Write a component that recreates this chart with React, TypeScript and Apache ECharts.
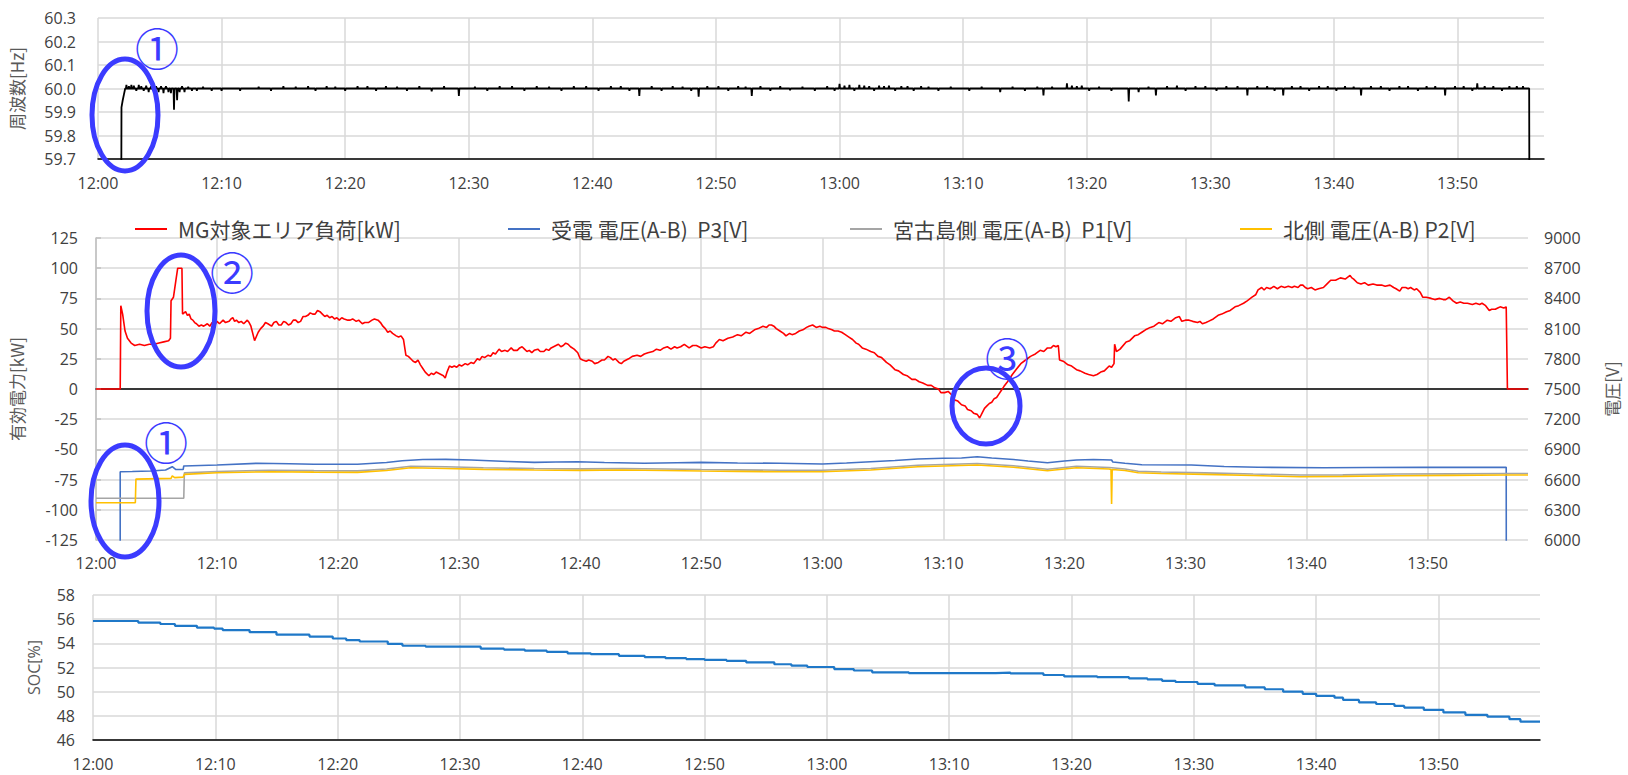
import React, { useEffect, useRef } from "react";
import * as echarts from "echarts";

// time in minutes after 12:00
// frequency: recovery after start, then short spikes around 60.0 Hz
const freqStart: [number, number][] = [
  [0, 59.5], [1.88, 59.5], [1.9, 59.92], [2.0, 59.95], [2.1, 59.975], [2.2, 60.0],
];
const freqSpikes: [number, number][] = [
  [2.3, 60.015], [2.5, 60.01], [2.7, 60.015], [2.9, 60.012], [3.1, 59.99], [3.3, 60.015], [3.5, 60.01], [3.7, 59.99], [3.9, 60.012], [4.1, 59.985],
  [4.3, 60.01], [4.5, 59.99], [4.7, 60.01], [4.9, 59.985], [5.1, 60.01], [5.3, 59.98], [5.5, 60.01], [5.7, 59.985], [5.9, 59.98], [6.15, 59.91],
  [6.4, 59.95], [6.6, 59.985], [6.8, 60.01], [7.0, 59.985], [7.3, 60.008], [7.6, 59.99], [8.0, 59.99], [8.5, 60.008], [9.2, 59.99], [10, 59.99],
  [11.5, 59.99], [13, 60.008], [14, 59.99], [15, 60.01], [16, 60.008], [17, 60.01], [17.6, 59.99], [18.5, 60.01], [19.2, 60.008], [20, 59.99],
  [21, 60.01], [21.8, 60.01], [22.5, 59.99], [23.3, 60.01], [24.2, 60.008], [25, 59.99], [26, 60.01], [27, 59.988], [28, 60.01], [29.2, 59.968],
  [30.5, 60.008], [31.5, 59.99], [32.5, 60.01], [33.5, 60.01], [34.5, 59.99], [35.5, 60.01], [36.5, 60.008], [37.5, 59.99], [38.5, 60.01], [39.5, 60.01],
  [40.5, 59.99], [41.5, 60.01], [42.3, 60.01], [43, 59.99], [43.8, 59.968], [44.8, 60.01], [45.6, 59.99], [46.5, 60.01], [47.3, 60.008], [48.0, 59.99],
  [48.6, 59.965], [49.3, 60.01], [50.2, 60.01], [51, 59.99], [51.8, 60.01], [52.4, 60.008], [52.9, 59.968], [53.6, 60.01], [54.4, 59.99], [55.2, 60.01],
  [56, 59.992], [57, 60.008], [58, 59.99], [59, 60.01], [59.6, 59.99], [60, 60.02], [60.4, 60.012], [60.8, 60.015], [61.2, 59.99], [61.6, 60.015],
  [62, 60.012], [62.4, 60.01], [62.8, 59.99], [63.2, 60.012], [63.6, 60.01], [64, 60.012], [64.5, 59.99], [65, 60.01], [65.5, 60.01], [66, 59.99],
  [66.6, 60.01], [67.2, 60.008], [68, 59.99], [69, 60.008], [70.5, 59.99], [71.5, 60.008], [73, 59.985], [74, 60.008], [75, 59.99], [76, 60.008],
  [76.5, 59.97], [77.2, 60.008], [78.4, 60.022], [78.8, 60.012], [79.2, 60.01], [79.6, 60.012], [80.2, 59.99], [81, 60.008], [82, 59.99], [83.4, 59.945],
  [84.2, 59.985], [85, 60.008], [85.6, 59.97], [86.5, 60.01], [87.3, 60.012], [88, 59.99], [88.8, 60.01], [89.6, 60.01], [90.5, 59.99], [91.3, 60.01],
  [92.2, 60.01], [93, 59.97], [93.8, 60.01], [94.6, 60.01], [95.2, 59.99], [95.9, 59.97], [96.6, 60.01], [97.3, 60.01], [98, 59.99], [98.8, 60.01],
  [99.5, 60.01], [100.2, 59.99], [100.9, 60.01], [101.6, 60.008], [102.2, 59.97], [103, 60.01], [103.8, 60.01], [104.5, 59.99], [105.3, 60.01], [106, 60.01],
  [106.8, 59.99], [107.5, 60.01], [108.2, 60.01], [109, 59.97], [109.8, 60.01], [110.5, 60.01], [111.2, 59.99], [111.6, 60.022], [112.2, 60.01], [112.9, 60.01],
  [113.6, 59.99], [114.2, 60.01], [114.8, 60.01], [115.3, 60.01],
];
const freqEnd: [number, number][] = [[115.8, 60.0], [115.82, 59.5], [117, 59.5]];
const FREQ_BASE = 60.0;

const loadData: [number, number][] = [
  [0, 0], [2.0, 0], [2.05, 69], [2.2, 62], [2.4, 48], [2.6, 42], [2.9, 38], [3.2, 36], [3.6, 37], [4.0, 36], [4.4, 37], [4.8, 37], [5.2, 38], [5.6, 39],
  [6.0, 40], [6.15, 42], [6.2, 73], [6.4, 76], [6.6, 90], [6.75, 100], [7.1, 100], [7.15, 62], [7.4, 64], [7.55, 61], [7.7, 62], [7.85, 58], [8.0, 57],
  [8.15, 55], [8.3, 54], [8.5, 52], [8.7, 53], [8.9, 52], [9.2, 54], [9.4, 52], [9.6, 55], [9.8, 53], [10.0, 56], [10.2, 54], [10.5, 57], [10.7, 55],
  [11.0, 56], [11.15, 58], [11.3, 59], [11.45, 56], [11.6, 57], [11.8, 55], [12.0, 56], [12.2, 54], [12.5, 57], [12.65, 55], [12.8, 52], [13.1, 40],
  [13.4, 47], [13.6, 50], [13.8, 52], [14.0, 55], [14.2, 54], [14.5, 52], [14.7, 55], [14.9, 56], [15.1, 53], [15.3, 53], [15.5, 56], [15.7, 55],
  [15.9, 53], [16.1, 54], [16.3, 57], [16.5, 57], [16.7, 55], [16.9, 56], [17.1, 60], [17.3, 60], [17.5, 61], [17.7, 63], [17.9, 62], [18.1, 62],
  [18.3, 65], [18.5, 64], [18.7, 62], [18.9, 60], [19.1, 61], [19.3, 59], [19.5, 60], [19.7, 58], [19.9, 59], [20.1, 57], [20.3, 59], [20.5, 58],
  [20.8, 57], [21.0, 57], [21.2, 58], [21.5, 56], [21.7, 57], [22.0, 54], [22.2, 55], [22.5, 55], [22.8, 57], [23.0, 58], [23.3, 57], [23.5, 55],
  [23.7, 52], [23.9, 50], [24.1, 47], [24.3, 48], [24.5, 46], [24.8, 44], [25.0, 43], [25.2, 44], [25.4, 41], [25.6, 28], [25.8, 27], [26.0, 25],
  [26.2, 23], [26.4, 22], [26.6, 24], [26.8, 20], [27.0, 17], [27.2, 14], [27.5, 11], [27.7, 13], [27.9, 12], [28.1, 14], [28.3, 13], [28.5, 12],
  [28.7, 11], [28.85, 9], [29.0, 14], [29.2, 19], [29.4, 18], [29.6, 19], [29.8, 18], [30.0, 20], [30.2, 19], [30.5, 21], [30.7, 20], [31.0, 22],
  [31.2, 21], [31.5, 25], [31.7, 24], [31.9, 27], [32.1, 26], [32.4, 28], [32.6, 27], [32.8, 30], [33.0, 29], [33.3, 33], [33.5, 31], [33.8, 32],
  [34.0, 31], [34.3, 34], [34.5, 32], [34.8, 32], [35.0, 34], [35.2, 35], [35.4, 33], [35.6, 31], [35.8, 32], [36.0, 30], [36.2, 32], [36.5, 33],
  [36.7, 31], [37.0, 31], [37.2, 33], [37.4, 32], [37.6, 34], [37.8, 35], [38.0, 36], [38.2, 37], [38.4, 35], [38.6, 36], [38.8, 38], [39.0, 37],
  [39.2, 35], [39.5, 33], [39.8, 30], [40.0, 25], [40.2, 24], [40.5, 23], [40.7, 24], [41.0, 23], [41.2, 21], [41.5, 22], [41.8, 24], [42.0, 24],
  [42.3, 27], [42.5, 26], [42.7, 24], [42.9, 25], [43.2, 22], [43.4, 21], [43.6, 23], [43.8, 24], [44.0, 25], [44.3, 27], [44.7, 28], [45.0, 27],
  [45.3, 29], [45.6, 30], [46.0, 31], [46.3, 33], [46.6, 32], [46.9, 34], [47.2, 35], [47.5, 33], [47.8, 35], [48.0, 34], [48.3, 35], [48.6, 37],
  [49.0, 34], [49.3, 36], [49.6, 36], [50.0, 34], [50.3, 35], [50.7, 34], [51.0, 35], [51.2, 38], [51.5, 41], [51.8, 40], [52.2, 42], [52.6, 43],
  [53.0, 45], [53.3, 44], [53.7, 47], [54.0, 46], [54.4, 49], [54.7, 50], [55.1, 52], [55.4, 51], [55.6, 53], [55.8, 53], [56.0, 52], [56.2, 50],
  [56.5, 48], [56.8, 46], [57.0, 44], [57.3, 46], [57.5, 45], [57.8, 46], [58.1, 48], [58.4, 49], [58.7, 51], [58.9, 52], [59.2, 53], [59.5, 51],
  [59.8, 52], [60.0, 51], [60.3, 51], [60.5, 50], [60.8, 49], [61.0, 48], [61.3, 48], [61.6, 47], [61.9, 45], [62.2, 43], [62.5, 41], [62.8, 38],
  [63.0, 37], [63.3, 34], [63.6, 33], [64.0, 31], [64.3, 30], [64.6, 27], [64.9, 26], [65.3, 22], [65.6, 20], [66.0, 16], [66.3, 15], [66.7, 12],
  [67.0, 11], [67.4, 8], [67.7, 8], [68.0, 6], [68.3, 5], [68.7, 3], [69.0, 3], [69.3, 1], [69.6, 0], [69.8, -3], [70.1, -3], [70.4, -2], [70.7, -5],
  [70.9, -9], [71.2, -10], [71.5, -13], [71.8, -14], [72.0, -17], [72.3, -18], [72.5, -20], [72.8, -21], [73.0, -24], [73.2, -20], [73.4, -16],
  [73.6, -14], [73.8, -12], [74.0, -11], [74.2, -8], [74.4, -7], [74.6, -4], [74.8, -1], [75.0, 2], [75.3, 6], [75.7, 12], [76.0, 16], [76.4, 21],
  [76.8, 24], [77.2, 27], [77.6, 29], [78.0, 32], [78.3, 31], [78.6, 34], [78.9, 34], [79.1, 36], [79.3, 35], [79.5, 36], [79.6, 24], [79.9, 23],
  [80.3, 20], [80.6, 19], [81.0, 16], [81.3, 15], [81.7, 13], [82.0, 12], [82.4, 11], [82.7, 12], [83.0, 14], [83.3, 15], [83.7, 19], [83.9, 18],
  [84.1, 21], [84.15, 37], [84.3, 31], [84.6, 33], [85.1, 39], [85.4, 40], [85.8, 44], [86.1, 45], [86.4, 47], [86.7, 49], [87.1, 51], [87.4, 52],
  [87.8, 55], [88.1, 54], [88.5, 57], [88.8, 56], [89.2, 59], [89.5, 60], [89.7, 56], [90.0, 57], [90.3, 57], [90.6, 56], [91.0, 55], [91.2, 56],
  [91.4, 54], [91.7, 55], [91.9, 56], [92.3, 58], [92.7, 61], [93.0, 62], [93.4, 64], [93.7, 65], [94.1, 68], [94.4, 69], [94.8, 71], [95.1, 73],
  [95.5, 76], [95.8, 78], [96.0, 82], [96.3, 84], [96.5, 82], [96.7, 84], [97.0, 83], [97.3, 85], [97.6, 83], [97.9, 85], [98.2, 84], [98.5, 85],
  [98.8, 84], [99.0, 85], [99.3, 84], [99.5, 86], [99.7, 86], [99.9, 84], [100.1, 83], [100.4, 84], [100.7, 82], [101.0, 83], [101.4, 84], [101.7, 87],
  [102.0, 90], [102.4, 90], [102.8, 92], [103.2, 91], [103.6, 94], [103.75, 92], [103.9, 91], [104.2, 88], [104.5, 87], [104.8, 88], [105.1, 86],
  [105.5, 87], [105.8, 86], [106.2, 86], [106.5, 85], [106.9, 86], [107.2, 84], [107.4, 83], [107.7, 81], [107.9, 84], [108.2, 84], [108.4, 83],
  [108.6, 84], [108.9, 82], [109.1, 83], [109.4, 80], [109.6, 76], [109.9, 76], [110.3, 75], [110.6, 74], [111.0, 75], [111.3, 74], [111.5, 74],
  [111.8, 76], [112.1, 73], [112.4, 71], [112.7, 72], [113.0, 71], [113.3, 71], [113.7, 70], [114.0, 71], [114.3, 70], [114.5, 71], [114.8, 69],
  [115.1, 65], [115.3, 66], [115.6, 66], [115.8, 67], [116.0, 68], [116.3, 67], [116.5, 68], [116.6, 0], [118.3, 0],
];

const p3Data: [number, number][] = [
  [0, 0], [1.99, 0], [2.0, 6678], [3.0, 6680], [4.5, 6685], [5.75, 6695], [6.3, 6728], [6.6, 6700], [7.2, 6700], [7.25, 6735], [10, 6745], [13.3, 6762],
  [16, 6758], [18, 6752], [21.6, 6752], [24, 6770], [25.3, 6788], [27, 6800], [28.9, 6801], [31, 6795], [32.5, 6788], [34, 6780], [36.2, 6771], [38, 6775],
  [39.8, 6778], [42, 6770], [45.3, 6762], [48, 6768], [50, 6771], [53, 6765], [56.5, 6762], [60, 6755], [62, 6765], [64, 6778], [66, 6790], [67.9, 6804],
  [70, 6812], [71.5, 6815], [72.8, 6827], [74, 6815], [75.8, 6800], [77, 6785], [78.6, 6768], [80, 6785], [81, 6795], [82.4, 6800], [83.9, 6795], [84.0, 6775],
  [85, 6762], [86.4, 6748], [90.5, 6745], [93.2, 6730], [96, 6722], [101.4, 6718], [105, 6720], [109.6, 6721], [116.5, 6722], [116.55, 0], [118.3, 0],
];

const p1Data: [number, number][] = [
  [0, 6414], [7.25, 6414], [7.3, 6667], [10, 6681], [14.4, 6693], [18, 6689], [21.6, 6687], [24, 6705], [26, 6733], [28.9, 6727], [32, 6717], [36.2, 6710],
  [40, 6707], [43.5, 6710], [47, 6705], [50, 6700], [53, 6697], [56.5, 6693], [60, 6693], [64, 6710], [67.9, 6743], [72.8, 6760], [75.8, 6737], [78.6, 6703],
  [81, 6733], [83.7, 6720], [85, 6705], [86.1, 6683], [88, 6675], [91.6, 6667], [95.6, 6655], [99.5, 6645], [103, 6647], [107.4, 6655], [112, 6657],
  [116.5, 6660], [118.3, 6660],
];

const p2Data: [number, number][] = [
  [0, 6370], [3.25, 6370], [3.3, 6605], [6.2, 6612], [6.3, 6638], [6.5, 6620], [7.2, 6625], [7.3, 6652], [10, 6668], [14.4, 6678], [18, 6674], [21.6, 6672],
  [24, 6690], [26, 6718], [28.9, 6711], [32, 6702], [36.2, 6695], [40, 6692], [43.5, 6695], [47, 6690], [50, 6685], [53, 6682], [56.5, 6678], [60, 6678],
  [64, 6695], [67.9, 6728], [72.8, 6745], [75.8, 6722], [78.6, 6688], [81, 6718], [83.7, 6705], [83.85, 6700], [83.9, 6357], [83.95, 6700], [85, 6690],
  [86.1, 6668], [88, 6660], [91.6, 6652], [95.6, 6640], [99.5, 6629], [103, 6632], [107.4, 6638], [112, 6642], [116.5, 6645], [118.3, 6645],
];

const socData: [number, number][] = [
  [0, 55.85], [3.7, 55.72], [5.5, 55.6], [6.7, 55.45], [8.5, 55.3], [9.9, 55.22], [10.6, 55.1], [12.8, 54.92], [15, 54.72], [17.7, 54.56], [19.6, 54.4],
  [20.7, 54.27], [21.8, 54.15], [24.1, 53.95], [25.3, 53.8], [27.2, 53.72], [31.7, 53.56], [33.6, 53.48], [35.3, 53.39], [37.1, 53.3], [38.8, 53.17],
  [40.7, 53.1], [43, 52.97], [45.1, 52.86], [46.8, 52.77], [48.5, 52.7], [50, 52.63], [51.8, 52.55], [53.4, 52.43], [55.7, 52.27], [57.1, 52.15], [58.4, 52.04],
  [60.6, 51.87], [62.2, 51.75], [63.7, 51.6], [66.7, 51.53], [73.8, 51.58], [75, 51.52], [77.7, 51.38], [79.4, 51.26], [82.1, 51.2], [84.7, 51.1], [86.2, 51.02],
  [87.4, 50.9], [88.5, 50.8], [90.3, 50.65], [91.7, 50.52], [94.2, 50.35], [95.8, 50.2], [97.3, 50.0], [98.9, 49.82], [100, 49.66], [101.5, 49.5], [102.2, 49.32],
  [103.5, 49.12], [104.9, 48.98], [106.4, 48.82], [107.2, 48.68], [108.8, 48.5], [110.4, 48.28], [112.2, 48.08], [114, 47.93], [115.8, 47.72], [116.7, 47.52],
  [118.3, 47.52],
];

const seriesNames = [
  "MG対象エリア負荷[kW]",
  "受電 電圧(A-B)  P3[V]",
  "宮古島側 電圧(A-B)  P1[V]",
  "北側 電圧(A-B) P2[V]",
];
const seriesColors = ["#FF0000", "#4472C4", "#A5A5A5", "#FFC000"];

const NUM_FONT = "'Open Sans', 'Noto Sans', sans-serif";
const CJK_FONT = "'Noto Sans CJK JP', 'Noto Sans', sans-serif";
const GRID_COLOR = "#d9d9d9";
const LABEL_COLOR = "#404040";
const NAME_COLOR = "#595959";
const MARK = "#3b3bff";

const fmtTime = (v: number) => {
  const m = Math.round(v);
  const h = 12 + Math.floor(m / 60);
  return h + ":" + String(m % 60).padStart(2, "0");
};

// each read spike is drawn as a narrow excursion from the 60.0 Hz base line
function buildFreq(): [number, number][] {
  const out: [number, number][] = [...freqStart];
  for (const [t, v] of freqSpikes) {
    out.push([t - 0.04, FREQ_BASE], [t, v], [t + 0.04, FREQ_BASE]);
  }
  return out.concat(freqEnd);
}

function xAxis(gridIndex: number, max: number, black: boolean, margin: number) {
  return {
    type: "value",
    gridIndex,
    min: 0,
    max,
    interval: 10,
    axisLine: { show: black, onZero: false, lineStyle: { color: "#000", width: 1.5 } },
    axisTick: { show: false },
    axisLabel: {
      formatter: fmtTime,
      margin,
      color: LABEL_COLOR,
      fontSize: 16,
      fontFamily: NUM_FONT,
      showMaxLabel: false,
    },
    splitLine: { show: true, showMaxLine: false, lineStyle: { color: GRID_COLOR, width: 1.5 } },
  };
}

export default function App() {
  const ref = useRef<HTMLDivElement>(null);

  useEffect(() => {
    if (!ref.current) return;
    const chart = echarts.init(ref.current, undefined, { renderer: "svg" });

    const ySplit = { show: true, lineStyle: { color: GRID_COLOR, width: 1.5 } };
    const nameStyle = { fontSize: 17, color: NAME_COLOR, fontFamily: CJK_FONT };
    const legendLeft = [130, 503, 845, 1235];

    const lineSeries = (i: number, data: [number, number][], yAxisIndex: number) => ({
      name: seriesNames[i],
      type: "line",
      xAxisIndex: 1,
      yAxisIndex,
      data,
      color: seriesColors[i],
      showSymbol: false,
      symbol: "none",
      lineStyle: { color: seriesColors[i], width: 1.6 },
      silent: true,
    });

    const option: any = {
      animation: false,
      backgroundColor: "#ffffff",
      grid: [
        { left: 93, top: 18, width: 1451, height: 141 },
        { left: 93, top: 238, width: 1447, height: 302 },
        { left: 93, top: 595, width: 1447, height: 145 },
      ],
      legend: seriesNames.map((n, i) => ({
        data: [n],
        left: legendLeft[i],
        top: 211,
        icon: "rect",
        itemWidth: 32,
        itemHeight: 2,
        selectedMode: false,
        textStyle: {
          fontSize: 21,
          color: LABEL_COLOR,
          fontFamily: CJK_FONT,
          lineHeight: 26,
          padding: [0, 0, 0, 6],
        },
      })),
      xAxis: [
        xAxis(0, 117, true, 16),
        xAxis(1, 118.3, false, 15),
        {
          type: "value",
          gridIndex: 1,
          min: 0,
          max: 118.3,
          interval: 10,
          axisLine: { show: true, onZero: true, lineStyle: { color: "#000", width: 1.5 } },
          axisTick: { show: false },
          axisLabel: { show: false },
          splitLine: { show: false },
        },
        xAxis(2, 118.3, true, 16),
      ],
      yAxis: [
        {
          type: "value",
          gridIndex: 0,
          min: 59.7,
          max: 60.3,
          interval: 0.1,
          name: "周波数[Hz]",
          nameLocation: "middle",
          nameRotate: 90,
          nameGap: 73,
          nameTextStyle: nameStyle,
          axisLine: { show: false },
          axisTick: { show: false },
          axisLabel: {
            formatter: (v: number) => v.toFixed(1),
            margin: 22,
            color: LABEL_COLOR,
            fontSize: 16,
            fontFamily: NUM_FONT,
          },
          splitLine: ySplit,
        },
        {
          type: "value",
          gridIndex: 1,
          min: -125,
          max: 125,
          interval: 25,
          name: "有効電力[kW]",
          nameLocation: "middle",
          nameRotate: 90,
          nameGap: 71,
          nameTextStyle: nameStyle,
          axisLine: { show: false },
          axisTick: { show: false },
          axisLabel: { margin: 18, color: LABEL_COLOR, fontSize: 16, fontFamily: NUM_FONT },
          splitLine: ySplit,
        },
        {
          type: "value",
          gridIndex: 1,
          position: "right",
          min: 6000,
          max: 9000,
          interval: 300,
          name: "電圧[V]",
          nameLocation: "middle",
          nameRotate: 90,
          nameGap: 75,
          nameTextStyle: nameStyle,
          axisLine: { show: true, lineStyle: { color: "#bfbfbf", width: 1.5 } },
          axisTick: { show: true, length: 5, lineStyle: { color: "#bfbfbf", width: 1.5 } },
          axisLabel: {
            formatter: (v: number) => String(Math.round(v)),
            margin: 16,
            color: LABEL_COLOR,
            fontSize: 16,
            fontFamily: NUM_FONT,
          },
          splitLine: { show: false },
        },
        {
          type: "value",
          gridIndex: 2,
          min: 46,
          max: 58,
          interval: 2,
          name: "SOC[%]",
          nameLocation: "middle",
          nameRotate: 90,
          nameGap: 51,
          nameTextStyle: { ...nameStyle, fontFamily: NUM_FONT, fontSize: 16 },
          axisLine: { show: false },
          axisTick: { show: false },
          axisLabel: { margin: 18, color: LABEL_COLOR, fontSize: 16, fontFamily: NUM_FONT },
          splitLine: ySplit,
        },
      ],
      series: [
        {
          name: "周波数",
          type: "line",
          xAxisIndex: 0,
          yAxisIndex: 0,
          data: buildFreq(),
          showSymbol: false,
          symbol: "none",
          color: "#000",
          lineStyle: { color: "#000", width: 1.8 },
          silent: true,
        },
        lineSeries(1, p3Data, 2),
        lineSeries(2, p1Data, 2),
        lineSeries(3, p2Data, 2),
        { ...lineSeries(0, loadData, 1), z: 5 },
        {
          name: "SOC",
          type: "line",
          xAxisIndex: 3,
          yAxisIndex: 3,
          data: socData,
          step: "end",
          showSymbol: false,
          symbol: "none",
          color: "#1F78C8",
          lineStyle: { color: "#1F78C8", width: 2.2 },
          silent: true,
        },
      ],
      graphic: [
        { type: "ellipse", z: 100, shape: { cx: 125, cy: 115, rx: 33, ry: 56 }, style: { fill: "none", stroke: MARK, lineWidth: 5 } },
        { type: "ellipse", z: 100, shape: { cx: 181, cy: 311, rx: 34, ry: 56 }, style: { fill: "none", stroke: MARK, lineWidth: 5 } },
        { type: "ellipse", z: 100, shape: { cx: 125, cy: 501, rx: 34, ry: 56 }, style: { fill: "none", stroke: MARK, lineWidth: 5 } },
        { type: "ellipse", z: 100, shape: { cx: 986, cy: 406, rx: 34, ry: 38 }, style: { fill: "none", stroke: MARK, lineWidth: 5 } },
        { type: "text", z: 101, x: 157, y: 47, style: { text: "①", fontSize: 44, fontFamily: CJK_FONT, fill: MARK, align: "center", verticalAlign: "middle" } },
        { type: "text", z: 101, x: 232, y: 271, style: { text: "②", fontSize: 44, fontFamily: CJK_FONT, fill: MARK, align: "center", verticalAlign: "middle" } },
        { type: "text", z: 101, x: 166, y: 441, style: { text: "①", fontSize: 44, fontFamily: CJK_FONT, fill: MARK, align: "center", verticalAlign: "middle" } },
        { type: "text", z: 101, x: 1007, y: 357, style: { text: "③", fontSize: 44, fontFamily: CJK_FONT, fill: MARK, align: "center", verticalAlign: "middle" } },
      ],
    };

    chart.setOption(option);
    return () => chart.dispose();
  }, []);

  return (
    <div
      ref={ref}
      style={{ position: "absolute", left: 0, top: 0, width: 1628, height: 775, background: "#fff" }}
    />
  );
}
